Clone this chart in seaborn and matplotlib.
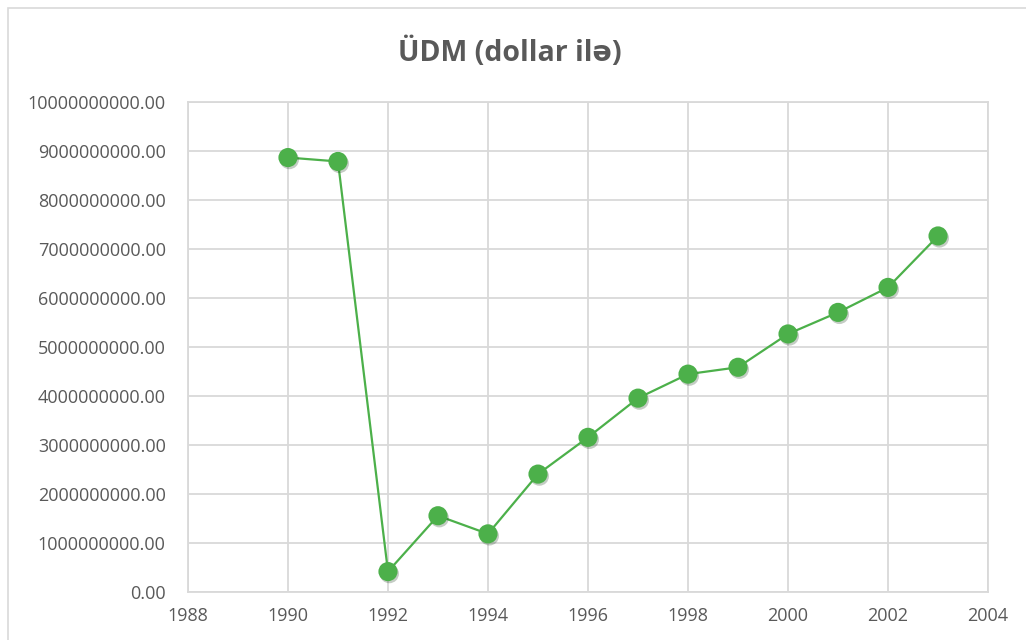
import matplotlib
matplotlib.use('Agg')
import matplotlib.pyplot as plt
import matplotlib.patheffects as pe
from matplotlib.patches import Rectangle
from matplotlib.ticker import FormatStrFormatter, MultipleLocator
import seaborn as sns
import pandas as pd

# ÜDM dəyərləri (oxunmuş təxmini qiymətlər)
years = [1990, 1991, 1992, 1993, 1994, 1995, 1996, 1997, 1998, 1999, 2000, 2001, 2002, 2003]
gdp = [8.86e9, 8.78e9, 0.41e9, 1.55e9, 1.18e9, 2.40e9, 3.15e9, 3.95e9, 4.44e9, 4.58e9,
       5.26e9, 5.70e9, 6.21e9, 7.26e9]
title = 'ÜDM (dollar ilə)'

df = pd.DataFrame({'il': years, 'udm': gdp})

sns.set_style('white')
plt.rcParams['font.family'] = ['Open Sans', 'DejaVu Sans']

fig = plt.figure(figsize=(10.26, 6.4), dpi=100)
ax = fig.add_axes([0.1832, 0.0755, 0.7798, 0.7656])

# çərçivə
fig.patches.append(Rectangle((8 / 1026, -0.01), 1.02, 1 - 8 / 640 + 0.01,
                             transform=fig.transFigure, fill=False,
                             edgecolor='#d9d9d9', linewidth=1.2))

green = '#4cb04a'
sns.lineplot(x='il', y='udm', data=df, ax=ax, color=green, linewidth=1.6)
sns.scatterplot(x='il', y='udm', data=df, ax=ax, color=green, s=190, linewidth=0,
                zorder=3,
                path_effects=[pe.SimplePatchShadow(offset=(1, -1.5), alpha=0.25), pe.Normal()])

ax.set_xlim(1988, 2004)
ax.set_ylim(0, 1e10)
ax.xaxis.set_major_locator(MultipleLocator(2))
ax.yaxis.set_major_locator(MultipleLocator(1e9))
ax.yaxis.set_major_formatter(FormatStrFormatter('%.2f'))
ax.grid(True, color='#d9d9d9', linewidth=1.3)
ax.set_axisbelow(True)
for s in ax.spines.values():
    s.set_color('#d9d9d9')
    s.set_linewidth(1.3)
ax.tick_params(axis='both', length=0, labelsize=13, colors='#595959')
ax.tick_params(axis='y', pad=16)
ax.tick_params(axis='x', pad=11)
ax.set_xlabel('')
ax.set_ylabel('')

fig.text(0.497, 0.917, title, ha='center', va='center', fontsize=20.5,
         fontweight='bold', color='#595959')

fig.savefig('out.png', dpi=100)
